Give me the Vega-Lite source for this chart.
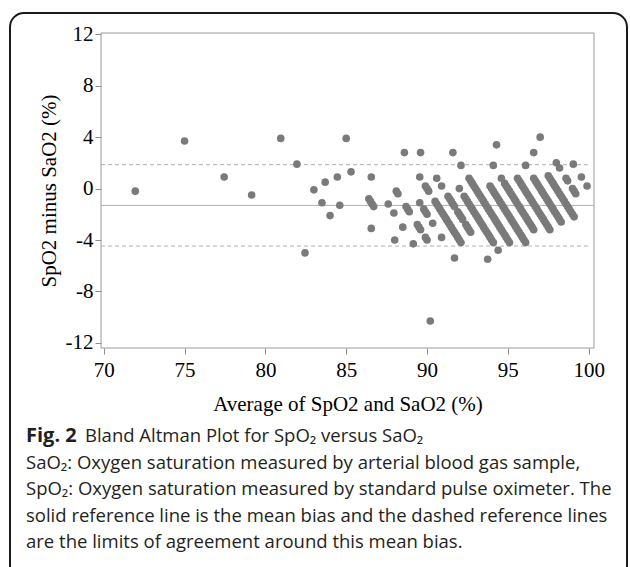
{
  "$schema": "https://vega.github.io/schema/vega-lite/v6.json",
  "width": 617,
  "height": 567,
  "autosize": {"type": "none"},
  "padding": {"left": 10, "top": 13, "right": 3, "bottom": 0},
  "background": "white",
  "config": {
    "view": {"stroke": "#1a1a1a", "strokeWidth": 2, "cornerRadius": 14},
    "axis": {"grid": false, "domain": false, "tickColor": "#8c8c8c", "tickSize": 6, "labelFont": "Liberation Serif", "labelFontSize": 21, "labelColor": "#000", "titleFont": "Liberation Serif", "titleFontSize": 21, "titleFontWeight": "normal", "titleColor": "#000", "labelExpr": "'' + datum.value"}
  },
  "datasets": {
    "points": [
      {"avg":71.95,"diff":-0.2},{"avg":75.0,"diff":3.7},{"avg":77.45,"diff":0.9},{"avg":79.15,"diff":-0.5},{"avg":80.95,"diff":3.9},{"avg":81.95,"diff":1.9},{"avg":82.45,"diff":-5.0},{"avg":83.0,"diff":-0.1},{"avg":83.5,"diff":-1.1},{"avg":83.7,"diff":0.5},{"avg":84.0,"diff":-2.1},{"avg":84.45,"diff":0.9},{"avg":84.6,"diff":-1.3},{"avg":85.0,"diff":3.9},{"avg":85.3,"diff":1.3},
      {"avg":86.55,"diff":-3.1},
      {"avg":86.4,"diff":-0.8},{"avg":86.5,"diff":-1.0},{"avg":86.6,"diff":-1.2},{"avg":86.7,"diff":-1.4},{"avg":88.0,"diff":-4.0},
      {"avg":86.55,"diff":0.9},{"avg":87.6,"diff":-1.2},{"avg":87.95,"diff":-1.9},{"avg":88.5,"diff":-3.0},{"avg":89.15,"diff":-4.3},
      {"avg":88.1,"diff":-0.2},{"avg":88.2,"diff":-0.4},{"avg":88.7,"diff":-1.4},{"avg":88.8,"diff":-1.6},{"avg":88.9,"diff":-1.8},{"avg":89.4,"diff":-2.8},{"avg":89.5,"diff":-3.0},{"avg":89.6,"diff":-3.2},{"avg":89.9,"diff":-3.8},{"avg":90.0,"diff":-4.0},
      {"avg":89.55,"diff":-1.1},{"avg":89.8,"diff":-1.6},{"avg":89.9,"diff":-1.8},{"avg":90.0,"diff":-2.0},{"avg":90.35,"diff":-2.7},{"avg":90.9,"diff":-3.8},{"avg":91.7,"diff":-5.4},
      {"avg":90.2,"diff":-10.3},
      {"avg":88.6,"diff":2.8},{"avg":89.55,"diff":0.9},{"avg":89.9,"diff":0.2},{"avg":90.0,"diff":0.0},{"avg":90.1,"diff":-0.2},
      {"avg":90.5,"diff":-1.0},{"avg":90.6,"diff":-1.2},{"avg":90.7,"diff":-1.4},{"avg":90.8,"diff":-1.6},{"avg":90.9,"diff":-1.8},{"avg":91.0,"diff":-2.0},{"avg":91.1,"diff":-2.2},{"avg":91.2,"diff":-2.4},{"avg":91.3,"diff":-2.6},{"avg":91.4,"diff":-2.8},{"avg":91.5,"diff":-3.0},{"avg":91.6,"diff":-3.2},{"avg":91.7,"diff":-3.4},{"avg":91.8,"diff":-3.6},{"avg":91.9,"diff":-3.8},{"avg":92.0,"diff":-4.0},{"avg":92.1,"diff":-4.2},
      {"avg":89.6,"diff":2.8},{"avg":90.6,"diff":0.8},{"avg":90.9,"diff":0.2},{"avg":91.3,"diff":-0.6},{"avg":91.4,"diff":-0.8},{"avg":91.5,"diff":-1.0},{"avg":91.6,"diff":-1.2},{"avg":91.7,"diff":-1.4},{"avg":91.9,"diff":-1.8},{"avg":92.0,"diff":-2.0},{"avg":92.1,"diff":-2.2},{"avg":92.2,"diff":-2.4},{"avg":92.4,"diff":-2.8},{"avg":92.5,"diff":-3.0},{"avg":92.6,"diff":-3.2},{"avg":92.7,"diff":-3.4},{"avg":93.75,"diff":-5.5},
      {"avg":92.0,"diff":0.0},{"avg":92.3,"diff":-0.6},{"avg":92.4,"diff":-0.8},{"avg":92.5,"diff":-1.0},{"avg":92.6,"diff":-1.2},{"avg":92.7,"diff":-1.4},{"avg":92.8,"diff":-1.6},{"avg":92.9,"diff":-1.8},{"avg":93.0,"diff":-2.0},{"avg":93.1,"diff":-2.2},{"avg":93.2,"diff":-2.4},{"avg":93.3,"diff":-2.6},{"avg":93.4,"diff":-2.8},{"avg":93.5,"diff":-3.0},{"avg":93.6,"diff":-3.2},{"avg":93.7,"diff":-3.4},{"avg":93.8,"diff":-3.6},{"avg":93.9,"diff":-3.8},{"avg":94.0,"diff":-4.0},{"avg":94.1,"diff":-4.2},{"avg":94.4,"diff":-4.8},
      {"avg":91.6,"diff":2.8},{"avg":92.1,"diff":1.8},{"avg":92.6,"diff":0.8},{"avg":92.7,"diff":0.6},{"avg":92.8,"diff":0.4},{"avg":92.9,"diff":0.2},{"avg":93.0,"diff":0.0},{"avg":93.1,"diff":-0.2},{"avg":93.2,"diff":-0.4},{"avg":93.3,"diff":-0.6},{"avg":93.4,"diff":-0.8},{"avg":93.5,"diff":-1.0},{"avg":93.6,"diff":-1.2},{"avg":93.7,"diff":-1.4},{"avg":93.8,"diff":-1.6},{"avg":93.9,"diff":-1.8},{"avg":94.0,"diff":-2.0},{"avg":94.1,"diff":-2.2},{"avg":94.2,"diff":-2.4},{"avg":94.3,"diff":-2.6},{"avg":94.4,"diff":-2.8},{"avg":94.5,"diff":-3.0},{"avg":94.6,"diff":-3.2},{"avg":94.7,"diff":-3.4},{"avg":94.8,"diff":-3.6},{"avg":94.9,"diff":-3.8},{"avg":95.0,"diff":-4.0},{"avg":95.1,"diff":-4.2},
      {"avg":93.9,"diff":0.2},{"avg":94.0,"diff":0.0},{"avg":94.1,"diff":-0.2},{"avg":94.2,"diff":-0.4},{"avg":94.3,"diff":-0.6},{"avg":94.4,"diff":-0.8},{"avg":94.5,"diff":-1.0},{"avg":94.6,"diff":-1.2},{"avg":94.7,"diff":-1.4},{"avg":94.8,"diff":-1.6},{"avg":94.9,"diff":-1.8},{"avg":95.0,"diff":-2.0},{"avg":95.1,"diff":-2.2},{"avg":95.2,"diff":-2.4},{"avg":95.3,"diff":-2.6},{"avg":95.4,"diff":-2.8},{"avg":95.5,"diff":-3.0},{"avg":95.6,"diff":-3.2},{"avg":95.7,"diff":-3.4},{"avg":95.8,"diff":-3.6},{"avg":95.9,"diff":-3.8},{"avg":96.0,"diff":-4.0},{"avg":96.1,"diff":-4.2},
      {"avg":94.1,"diff":1.8},{"avg":94.6,"diff":0.8},{"avg":94.8,"diff":0.4},{"avg":94.9,"diff":0.2},{"avg":95.0,"diff":0.0},{"avg":95.1,"diff":-0.2},{"avg":95.2,"diff":-0.4},{"avg":95.3,"diff":-0.6},{"avg":95.4,"diff":-0.8},{"avg":95.5,"diff":-1.0},{"avg":95.6,"diff":-1.2},{"avg":95.7,"diff":-1.4},{"avg":95.8,"diff":-1.6},{"avg":95.9,"diff":-1.8},{"avg":96.0,"diff":-2.0},{"avg":96.1,"diff":-2.2},{"avg":96.2,"diff":-2.4},{"avg":96.3,"diff":-2.6},{"avg":96.4,"diff":-2.8},{"avg":96.5,"diff":-3.0},{"avg":96.6,"diff":-3.2},
      {"avg":94.3,"diff":3.4},{"avg":95.6,"diff":0.8},{"avg":95.7,"diff":0.6},{"avg":95.8,"diff":0.4},{"avg":95.9,"diff":0.2},{"avg":96.0,"diff":0.0},{"avg":96.1,"diff":-0.2},{"avg":96.2,"diff":-0.4},{"avg":96.3,"diff":-0.6},{"avg":96.4,"diff":-0.8},{"avg":96.5,"diff":-1.0},{"avg":96.6,"diff":-1.2},{"avg":96.7,"diff":-1.4},{"avg":96.8,"diff":-1.6},{"avg":96.9,"diff":-1.8},{"avg":97.0,"diff":-2.0},{"avg":97.1,"diff":-2.2},{"avg":97.2,"diff":-2.4},{"avg":97.3,"diff":-2.6},{"avg":97.4,"diff":-2.8},{"avg":97.5,"diff":-3.0},{"avg":97.6,"diff":-3.2},
      {"avg":96.1,"diff":1.8},{"avg":96.6,"diff":0.8},{"avg":96.7,"diff":0.6},{"avg":96.8,"diff":0.4},{"avg":96.9,"diff":0.2},{"avg":97.0,"diff":0.0},{"avg":97.1,"diff":-0.2},{"avg":97.2,"diff":-0.4},{"avg":97.3,"diff":-0.6},{"avg":97.4,"diff":-0.8},{"avg":97.5,"diff":-1.0},{"avg":97.6,"diff":-1.2},{"avg":97.7,"diff":-1.4},{"avg":97.8,"diff":-1.6},{"avg":97.9,"diff":-1.8},{"avg":98.0,"diff":-2.0},{"avg":98.1,"diff":-2.2},{"avg":98.2,"diff":-2.4},{"avg":98.3,"diff":-2.6},
      {"avg":96.6,"diff":2.8},{"avg":97.5,"diff":1.0},{"avg":97.6,"diff":0.8},{"avg":97.7,"diff":0.6},{"avg":97.8,"diff":0.4},{"avg":97.9,"diff":0.2},{"avg":98.0,"diff":0.0},{"avg":98.1,"diff":-0.2},{"avg":98.2,"diff":-0.4},{"avg":98.3,"diff":-0.6},{"avg":98.4,"diff":-0.8},{"avg":98.5,"diff":-1.0},{"avg":98.6,"diff":-1.2},{"avg":98.7,"diff":-1.4},{"avg":98.8,"diff":-1.6},{"avg":98.9,"diff":-1.8},{"avg":99.0,"diff":-2.0},{"avg":99.1,"diff":-2.2},
      {"avg":97.0,"diff":4.0},{"avg":98.0,"diff":2.0},{"avg":98.2,"diff":1.6},{"avg":98.6,"diff":0.8},{"avg":98.7,"diff":0.6},{"avg":99.0,"diff":0.0},{"avg":99.1,"diff":-0.2},{"avg":99.2,"diff":-0.4},
      {"avg":99.05,"diff":1.9},{"avg":99.55,"diff":0.9},{"avg":99.9,"diff":0.2}
    ],
    "mean": [{"diff": -1.31}],
    "limits": [{"diff": 1.86}, {"diff": -4.47}],
    "caption": [
      {"line": 1, "text": "SaO₂: Oxygen saturation measured by arterial blood gas sample,"},
      {"line": 2, "text": "SpO₂: Oxygen saturation measured by standard pulse oximeter. The"},
      {"line": 3, "text": "solid reference line is the mean bias and the dashed reference lines"},
      {"line": 4, "text": "are the limits of agreement around this mean bias."}
    ],
    "captionHead": [{"line": 0, "head": "Fig. 2", "text": "Bland Altman Plot for SpO₂ versus SaO₂"}]
  },
  "layer": [
    {
      "layer": [
        {
          "data": {"values": [{}]},
          "mark": {"type": "rect", "filled": false, "stroke": "#9a9a9a", "strokeWidth": 1},
          "encoding": {
            "x": {"datum": 69.83, "type": "quantitative"},
            "x2": {"datum": 100.33},
            "y": {"datum": -12.4, "type": "quantitative"},
            "y2": {"datum": 12.1}
          }
        },
        {
          "data": {"name": "mean"},
          "mark": {"type": "rule", "stroke": "#b0b0b0", "strokeWidth": 1},
          "encoding": {
            "x": {"datum": 69.83, "type": "quantitative"},
            "x2": {"datum": 100.33},
            "y": {"field": "diff", "type": "quantitative"}
          }
        },
        {
          "data": {"name": "limits"},
          "mark": {"type": "rule", "stroke": "#b0b0b0", "strokeWidth": 1, "strokeDash": [4, 3]},
          "encoding": {
            "x": {"datum": 69.83, "type": "quantitative"},
            "x2": {"datum": 100.1},
            "y": {"field": "diff", "type": "quantitative"}
          }
        },
        {
          "data": {"name": "points"},
          "mark": {"type": "circle", "size": 58, "color": "#7a7a7a", "opacity": 1},
          "encoding": {
            "x": {
              "field": "avg", "type": "quantitative",
              "scale": {"domain": [69.83, 100.33], "range": [91, 584], "nice": false, "zero": false},
              "axis": {"orient": "bottom", "offset": -232, "values": [70, 75, 80, 85, 90, 95, 100], "labelPadding": 5, "title": "Average of SpO2 and SaO2 (%)", "titlePadding": 13}
            },
            "y": {
              "field": "diff", "type": "quantitative",
              "scale": {"domain": [-12.4, 12.1], "range": [335, 20], "nice": false, "zero": false},
              "axis": {"orient": "left", "offset": -91, "values": [-12, -8, -4, 0, 4, 8, 12], "labelPadding": 2, "title": "SpO2 minus SaO2 (%)", "titlePadding": 6}
            }
          }
        }
      ]
    },
    {
      "encoding": {
        "x": {"datum": 0, "type": "quantitative", "scale": {"domain": [0, 1], "range": [16, 600]}, "axis": null},
        "y": {"field": "line", "type": "quantitative", "scale": {"domain": [0, 4], "range": [423, 529], "zero": false, "nice": false}, "axis": null}
      },
      "layer": [
        {
          "data": {"name": "captionHead"},
          "mark": {"type": "text", "align": "left", "baseline": "middle", "font": "Open Sans", "fontSize": 20, "fontWeight": "bold", "color": "#231f20"},
          "encoding": {"text": {"field": "head"}}
        },
        {
          "data": {"name": "captionHead"},
          "mark": {"type": "text", "align": "left", "baseline": "middle", "font": "Open Sans", "fontSize": 18.5, "dx": 59, "color": "#231f20"},
          "encoding": {"text": {"field": "text"}}
        },
        {
          "data": {"name": "caption"},
          "mark": {"type": "text", "align": "left", "baseline": "middle", "font": "Open Sans", "fontSize": 18.5, "color": "#231f20"},
          "encoding": {"text": {"field": "text"}}
        }
      ]
    }
  ],
  "resolve": {"scale": {"x": "independent", "y": "independent"}}
}
